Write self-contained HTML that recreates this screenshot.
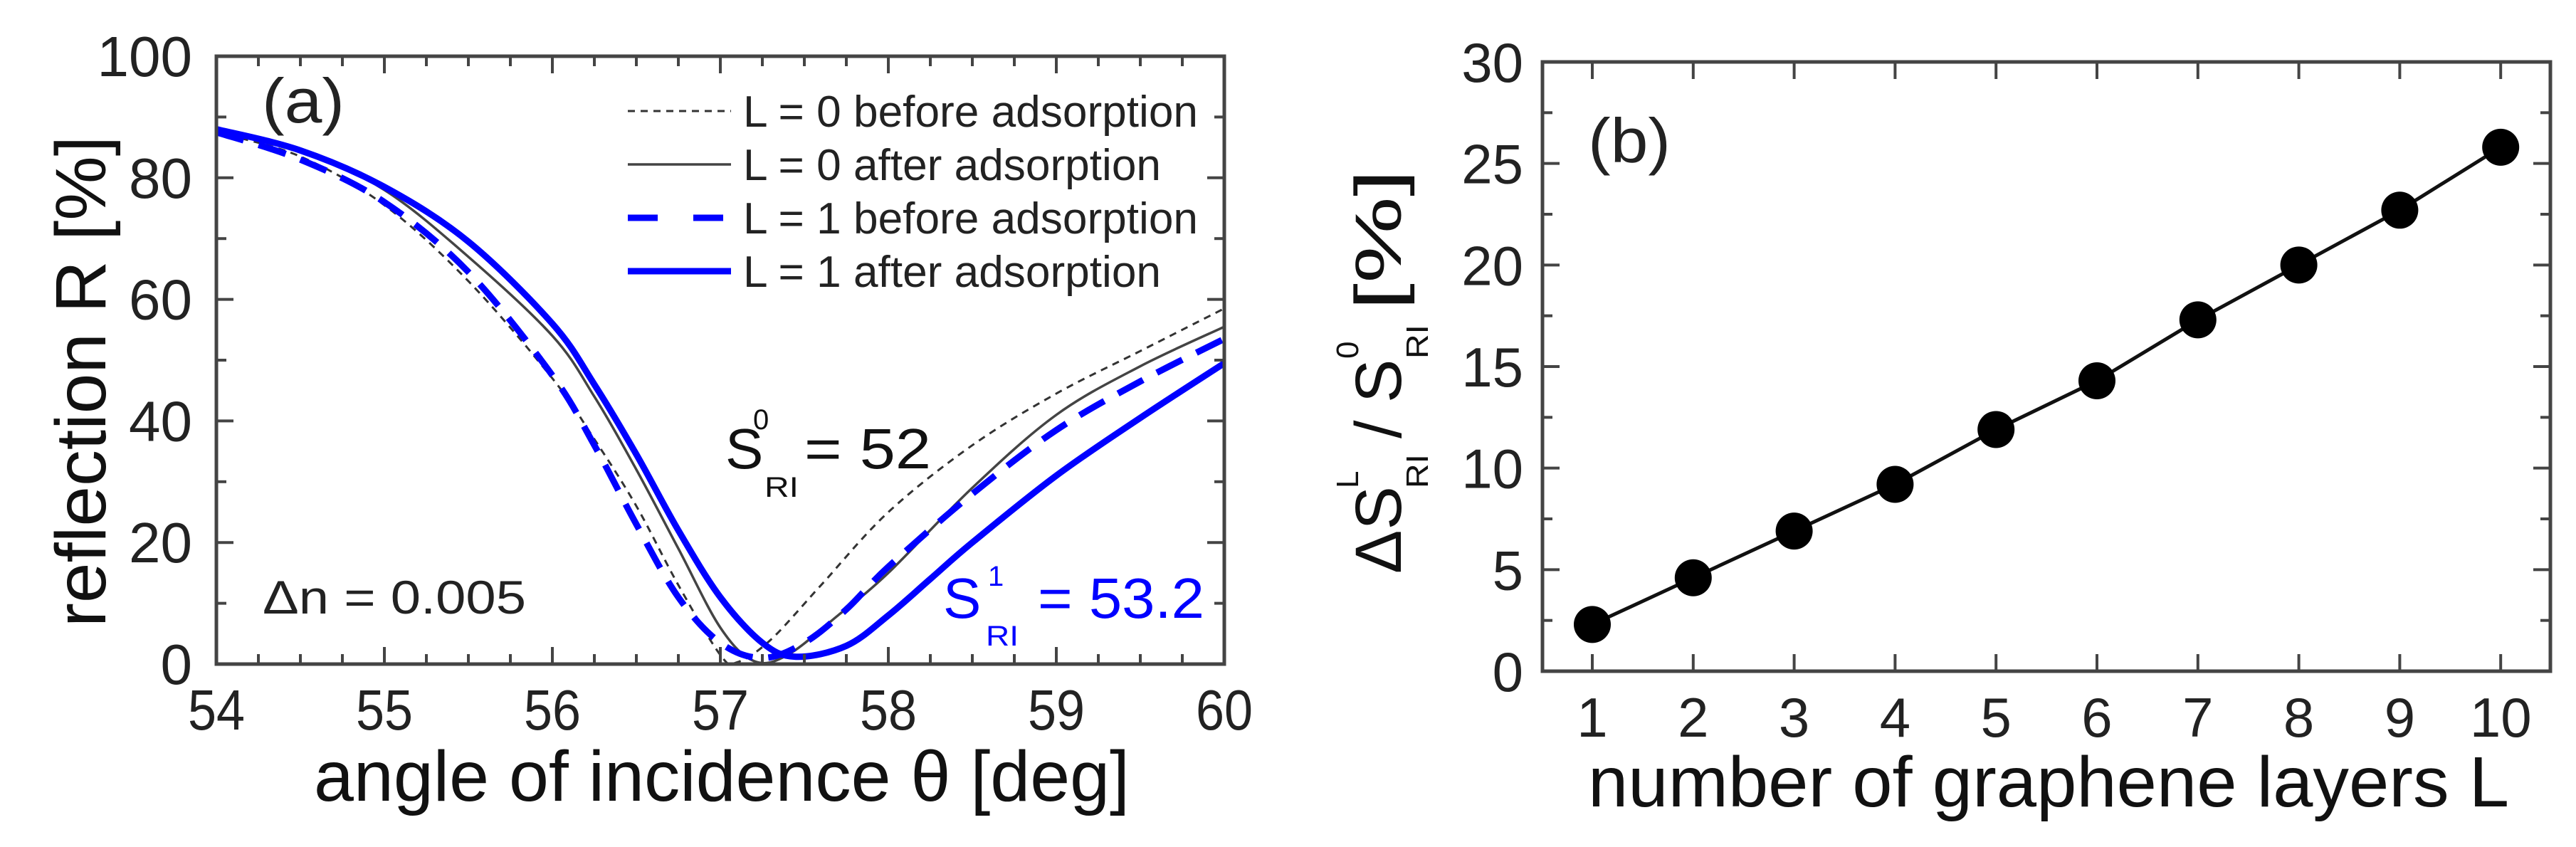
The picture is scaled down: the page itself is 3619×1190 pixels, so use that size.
<!DOCTYPE html>
<html><head><meta charset="utf-8"><style>
html,body{margin:0;padding:0;background:#fff;}
svg{display:block;font-family:"Liberation Sans",sans-serif;}
</style></head><body>
<svg id="fig" width="3619" height="1190" viewBox="0 0 3619 1190">
<g id="pa"></g>
<g id="pb"></g>
</svg>
<script>
// Panel (a) data: angle (deg) and reflection (%)
const aDottedX=[54,54.5,55,55.5,56,56.25,56.5,56.75,57,57.1,57.3,57.6,58,58.5,59,59.5,60];
const aDottedY=[87.5,83.5,75.5,63,47,37,26,13,1.5,0.3,4,13,25,36,44.5,51.5,58.5];
const aSolidX=[54,54.5,55,55.5,56,56.25,56.5,56.75,57,57.2,57.4,57.7,58,58.5,59,59.5,60];
const aSolidY=[87.5,84.5,78,67,54,44,32,19,6,0.5,1.5,8,15,29,41,49,55.5];
const aBlueDashX=[54,54.5,55,55.5,56,56.25,56.5,56.75,57,57.25,57.5,57.75,58,58.5,59,59.5,60];
const aBlueDashY=[87.5,83,76,64.5,47.5,36,23,11,3.5,1,3.5,9,16,28,38.5,46.5,53.5];
const aBlueSolidX=[54,54.5,55,55.5,56,56.25,56.5,56.75,57,57.25,57.45,57.75,58,58.25,58.5,59,59.5,60];
const aBlueSolidY=[88,84.5,78.5,69.5,56,46,34.5,22,11,3.5,1.2,3,8,14,20,31,40.5,49.5];
const aXTicks=[54,55,56,57,58,59,60];
const aYTicks=[0,20,40,60,80,100];
// Panel (b) data
const bLayers=[1,2,3,4,5,6,7,8,9,10];
const bValues=[2.3,4.6,6.9,9.2,11.9,14.3,17.3,20.0,22.7,25.8];
const bYTicks=[0,5,10,15,20,25,30];

const NS="http://www.w3.org/2000/svg";
function mk(parent,tag,attrs,text){const e=document.createElementNS(NS,tag);for(const k in attrs)e.setAttribute(k,attrs[k]);if(text!==undefined)e.textContent=text;parent.appendChild(e);return e;}

// ---------- Panel A ----------
const pa=document.getElementById('pa');
const AL=304,AR=1720,AT=79,AB=933;
const ax=v=>AL+(v-54)/6*(AR-AL);
const ay=v=>AB-(v/100)*(AB-AT);
function smooth(xs,ys,fx,fy){
  const p=xs.map((x,i)=>[fx(x),fy(ys[i])]);
  let d=`M${p[0][0]},${p[0][1]}`;
  for(let i=0;i<p.length-1;i++){
    const p0=p[Math.max(0,i-1)],p1=p[i],p2=p[i+1],p3=p[Math.min(p.length-1,i+2)];
    const c1=[p1[0]+(p2[0]-p0[0])/6,p1[1]+(p2[1]-p0[1])/6];
    const c2=[p2[0]-(p3[0]-p1[0])/6,p2[1]-(p3[1]-p1[1])/6];
    d+=` C${c1[0]},${c1[1]} ${c2[0]},${c2[1]} ${p2[0]},${p2[1]}`;
  }
  return d;
}
mk(pa,'defs',{}).innerHTML='<clipPath id="clipA"><rect x="304" y="79" width="1416" height="854"/></clipPath>';
const curves=mk(pa,'g',{'clip-path':'url(#clipA)'});
let e;
e=mk(curves,'path',{d:smooth(aDottedX,aDottedY,ax,ay),fill:'none',stroke:'#333','stroke-width':3,'stroke-dasharray':'10 8'});


e=mk(curves,'path',{d:smooth(aSolidX,aSolidY,ax,ay),fill:'none',stroke:'#444','stroke-width':3.5});


e=mk(curves,'path',{d:smooth(aBlueDashX,aBlueDashY,ax,ay),fill:'none',stroke:'#0000ff','stroke-width':9,'stroke-dasharray':'40 22'});


e=mk(curves,'path',{d:smooth(aBlueSolidX,aBlueSolidY,ax,ay),fill:'none',stroke:'#0000ff','stroke-width':9});



e=mk(pa,'rect',{x:AL,y:AT,width:AR-AL,height:AB-AT,fill:'none',stroke:'#444','stroke-width':5});


for(let v=54;v<=60.001;v+=0.25){
  const maj=Math.abs(v-Math.round(v))<1e-6; const L=maj?24:14; const X=ax(v);
  mk(pa,'line',{x1:X,y1:AB,x2:X,y2:AB-L,stroke:'#444','stroke-width':4});
  mk(pa,'line',{x1:X,y1:AT,x2:X,y2:AT+L,stroke:'#444','stroke-width':4});
}
for(let v=0;v<=100;v+=10){
  const maj=v%20===0; const L=maj?24:14; const Y=ay(v);
  mk(pa,'line',{x1:AL,y1:Y,x2:AL+L,y2:Y,stroke:'#444','stroke-width':4});
  mk(pa,'line',{x1:AR,y1:Y,x2:AR-L,y2:Y,stroke:'#444','stroke-width':4});
}
aXTicks.forEach(v=>{e=mk(pa,'text',{x:ax(v),y:1025,'font-size':80,'text-anchor':'middle',fill:'#222',textLength:80,lengthAdjust:'spacingAndGlyphs'},String(v));

});
aYTicks.forEach(v=>{e=mk(pa,'text',{x:270,y:ay(v)+28,'font-size':80,'text-anchor':'end',fill:'#222'},String(v));

});
</script>
<script>
(function(){
const pa=document.getElementById('pa');
pa.insertAdjacentHTML('beforeend',`
<text x="441" y="1125" font-size="100" fill="#111" textLength="1146" lengthAdjust="spacingAndGlyphs">angle of incidence θ [deg]</text>
<text transform="translate(148,536) rotate(-90)" font-size="100" fill="#111" text-anchor="middle" textLength="690" lengthAdjust="spacingAndGlyphs">reflection R [%]</text>
<text x="368" y="172" font-size="88" fill="#222" textLength="116" lengthAdjust="spacingAndGlyphs">(a)</text>
<g>
 <g><line x1="882" y1="156" x2="1027" y2="156" stroke="#333" stroke-width="3" stroke-dasharray="10 8"/><text x="1044" y="178" font-size="62" fill="#222" textLength="639" lengthAdjust="spacingAndGlyphs">L = 0 before adsorption</text></g>
 <g><line x1="882" y1="231" x2="1027" y2="231" stroke="#444" stroke-width="3.5"/><text x="1044" y="253" font-size="62" fill="#222" textLength="587" lengthAdjust="spacingAndGlyphs">L = 0 after adsorption</text></g>
 <g><line x1="882" y1="306" x2="1027" y2="306" stroke="#0000ff" stroke-width="9" stroke-dasharray="42 50"/><text x="1044" y="328" font-size="62" fill="#222" textLength="639" lengthAdjust="spacingAndGlyphs">L = 1 before adsorption</text></g>
 <g><line x1="882" y1="381" x2="1027" y2="381" stroke="#0000ff" stroke-width="9"/><text x="1044" y="403" font-size="62" fill="#222" textLength="587" lengthAdjust="spacingAndGlyphs">L = 1 after adsorption</text></g>
</g>
<g fill="#111">
 <text x="1019" y="658" font-size="80">S</text>
 <text x="1058" y="603" font-size="40">0</text>
 <text x="1074" y="698" font-size="40" textLength="48" lengthAdjust="spacingAndGlyphs">RI</text>
 <text x="1130" y="658" font-size="80" textLength="178" lengthAdjust="spacingAndGlyphs">= 52</text>
</g>
<g fill="#0000ff">
 <text x="1325" y="868" font-size="80">S</text>
 <text x="1388" y="823" font-size="40">1</text>
 <text x="1385" y="907" font-size="40" textLength="46" lengthAdjust="spacingAndGlyphs">RI</text>
 <text x="1458" y="868" font-size="80" textLength="234" lengthAdjust="spacingAndGlyphs">= 53.2</text>
</g>
<text x="369" y="862" font-size="66" fill="#222" textLength="370" lengthAdjust="spacingAndGlyphs">Δn = 0.005</text>
`);
})();
</script>
<script>
(function(){
const pb=document.getElementById('pb');
const BL=2167,BR=3583,BT=87,BB=943;
const bx=v=>2237+(v-1)*141.8;
const by=v=>BB-(v/30)*(BB-BT);
let e;
e=mk(pb,'rect',{x:BL,y:BT,width:BR-BL,height:BB-BT,fill:'none',stroke:'#444','stroke-width':5});


bLayers.forEach(v=>{const X=bx(v);
  mk(pb,'line',{x1:X,y1:BB,x2:X,y2:BB-24,stroke:'#444','stroke-width':4});
  mk(pb,'line',{x1:X,y1:BT,x2:X,y2:BT+24,stroke:'#444','stroke-width':4});
  e=mk(pb,'text',{x:X,y:1035,'font-size':78,'text-anchor':'middle',fill:'#222'},String(v));
  
  
});
for(let v=0;v<=30;v+=2.5){const maj=v%5===0;const L=maj?24:14;const Y=by(v);
  mk(pb,'line',{x1:BL,y1:Y,x2:BL+L,y2:Y,stroke:'#444','stroke-width':4});
  mk(pb,'line',{x1:BR,y1:Y,x2:BR-L,y2:Y,stroke:'#444','stroke-width':4});}
bYTicks.forEach(v=>{e=mk(pb,'text',{x:2140,y:by(v)+28,'font-size':78,'text-anchor':'end',fill:'#222'},String(v));
  
  });
const pts=bLayers.map((l,i)=>bx(l)+','+by(bValues[i])).join(' ');
e=mk(pb,'polyline',{points:pts,fill:'none',stroke:'#111','stroke-width':5});


bLayers.forEach((l,i)=>{
  e=mk(pb,'circle',{cx:bx(l),cy:by(bValues[i]),r:26,fill:'#000'});
  
  
});
pb.insertAdjacentHTML('beforeend',`
<text x="2231" y="1133" font-size="100" fill="#111" textLength="1294" lengthAdjust="spacingAndGlyphs">number of graphene layers L</text>
<text x="2231" y="228" font-size="88" fill="#222" textLength="116" lengthAdjust="spacingAndGlyphs">(b)</text>
<g transform="translate(1968,806) rotate(-90)" fill="#111">
 <text x="0" y="0" font-size="92">ΔS</text>
 <text x="120" y="-60" font-size="44">L</text>
 <text x="120" y="38" font-size="44" textLength="48" lengthAdjust="spacingAndGlyphs">RI</text>
 <text x="190" y="0" font-size="92">/</text>
 <text x="240" y="0" font-size="92">S</text>
 <text x="302" y="-60" font-size="44">0</text>
 <text x="302" y="38" font-size="44" textLength="48" lengthAdjust="spacingAndGlyphs">RI</text>
 <text x="370" y="0" font-size="92" textLength="198" lengthAdjust="spacingAndGlyphs">[%]</text>
</g>`);
})();
</script>
</body></html>
